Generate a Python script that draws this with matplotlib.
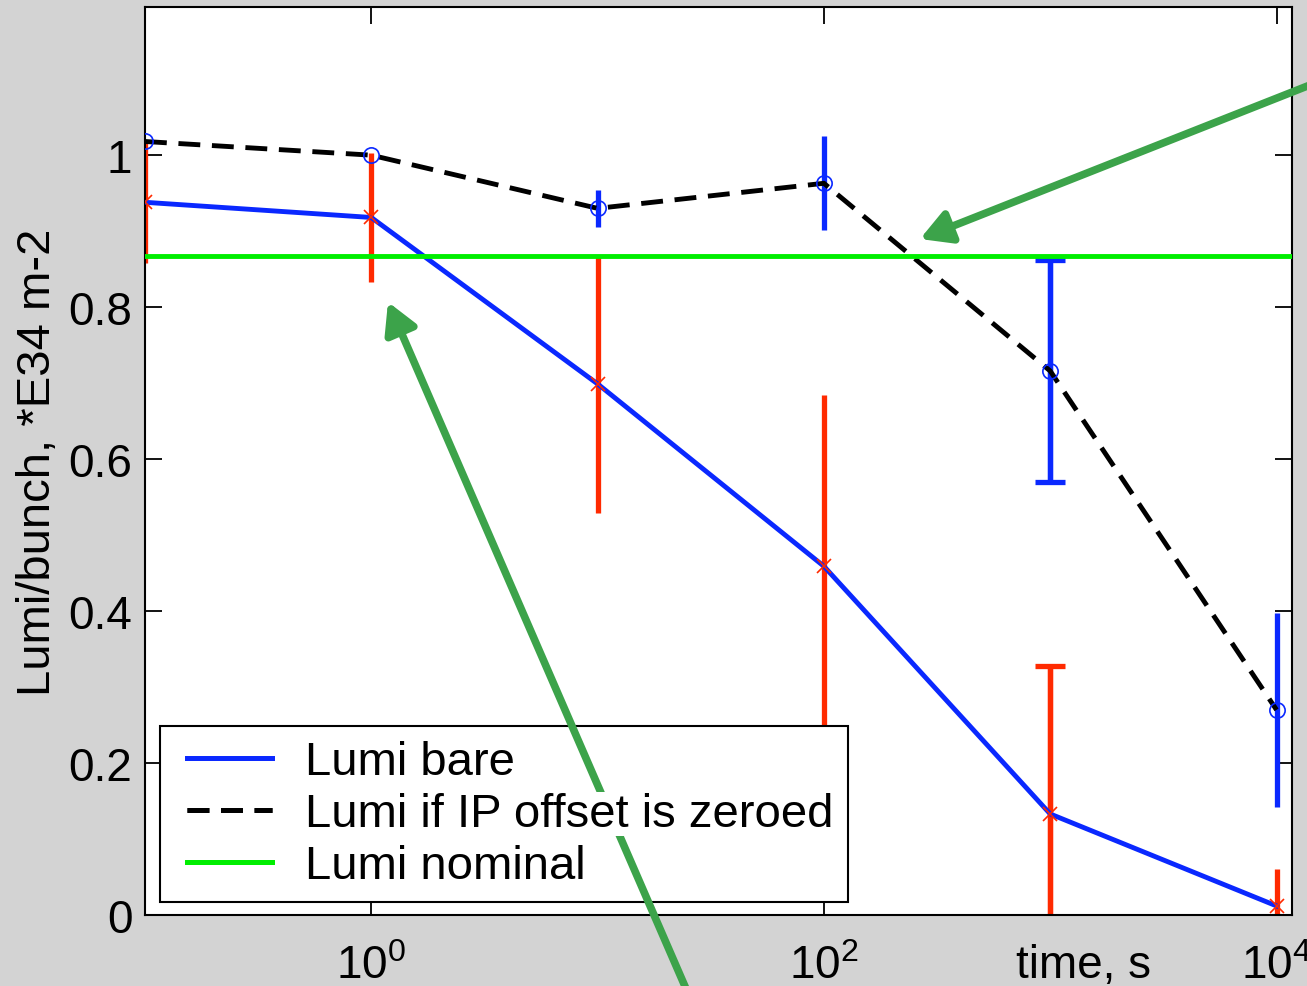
import numpy as np
import matplotlib
matplotlib.use("Agg")
from matplotlib import pyplot as plt
from matplotlib.lines import Line2D
from matplotlib.legend_handler import HandlerLine2D
from matplotlib.patches import FancyArrowPatch
from matplotlib.ticker import FuncFormatter, FixedLocator, NullLocator

plt.rcParams['font.family'] = ['Liberation Sans', 'DejaVu Sans']
plt.rcParams['mathtext.default'] = 'regular'

# data
time_s = [0.1, 1, 10, 100, 1000, 10000]
lumi_bare = [0.938, 0.918, 0.699, 0.459, 0.133, 0.012]
lumi_bare_err = [0.08, 0.085, 0.17, 0.225, 0.195, 0.048]
lumi_zeroed = [1.018, 1.0, 0.930, 0.963, 0.716, 0.270]
lumi_zeroed_err = [0.0, 0.0, 0.024, 0.062, 0.146, 0.128]
lumi_nominal = 0.867
capped = [4]  # only the 1e3 point shows caps

y_ticks = [0, 0.2, 0.4, 0.6, 0.8, 1.0]
x_ticks = [1, 100, 10000]
legend_labels = ["Lumi bare", "Lumi if IP offset is zeroed", "Lumi nominal"]

blue = '#0a28ff'
red = '#ff2a00'
green = '#00ee00'
arrow_green = '#3ca34a'
fs = 33

W, H = 1307, 987
fig = plt.figure(figsize=(W / 100, H / 100), dpi=100, facecolor='#d3d3d3')
ax = fig.add_axes([0.1109, 0.0719, 0.8776, 0.92])
ax.set_facecolor('white')

# error bars
ax.errorbar(time_s, lumi_bare, yerr=lumi_bare_err, fmt='none', ecolor=red,
            elinewidth=3.8, capsize=0, zorder=2)
ax.errorbar(time_s, lumi_zeroed, yerr=lumi_zeroed_err, fmt='none', ecolor=blue,
            elinewidth=3.8, capsize=0, zorder=2)
for i in capped:
    ax.errorbar([time_s[i]], [lumi_bare[i]], yerr=[lumi_bare_err[i]], fmt='none',
                ecolor=red, elinewidth=3.8, capsize=11, capthick=3.8, zorder=2)
    ax.errorbar([time_s[i]], [lumi_zeroed[i]], yerr=[lumi_zeroed_err[i]], fmt='none',
                ecolor=blue, elinewidth=3.8, capsize=11, capthick=3.8, zorder=2)

# lines
ax.plot(time_s, lumi_bare, color=blue, lw=3.5, label=legend_labels[0], zorder=3)
ax.plot(time_s, lumi_zeroed, color='black', lw=3.5, ls=(0, (4.5, 2.4)),
        label=legend_labels[1], zorder=3)
ax.axhline(lumi_nominal, color=green, lw=3.5, label=legend_labels[2], zorder=3)

# markers
ax.plot(time_s, lumi_bare, ls='none', marker='x', ms=10, mew=1.2, color=red, zorder=4)
ax.plot(time_s, lumi_zeroed, ls='none', marker='o', ms=11, mew=1.2,
        mfc='none', mec=blue, zorder=4)

ax.set_xscale('log')
ax.set_xlim(0.1, 1.17e4)
ax.set_ylim(0, 1.195)
ax.xaxis.set_major_locator(FixedLocator(x_ticks))
ax.xaxis.set_minor_locator(NullLocator())
ax.set_yticks(y_ticks)
ax.yaxis.set_major_formatter(FuncFormatter(lambda v, p: "%g" % v))
ax.tick_params(direction='in', length=12, width=1.3, labelsize=fs,
               top=True, right=True)
ax.tick_params(axis='x', pad=21)
ax.tick_params(axis='y', pad=9)
for s in ax.spines.values():
    s.set_linewidth(1.5)

ax.set_ylabel("Lumi/bunch, *E34 m-2", fontsize=34, labelpad=6)
fig.text(1083 / W, 1 - 966 / H, "time, s", fontsize=fs, ha='center', va='center')

leg_kw = dict(loc='lower left', bbox_to_anchor=(0.013, 0.014), bbox_transform=ax.transAxes,
              borderaxespad=0, fontsize=34, fancybox=False, framealpha=1,
              edgecolor='black', handlelength=2.08, handletextpad=0.7,
              labelspacing=0.17, borderpad=0.3,
              handler_map={Line2D: HandlerLine2D(xpad=0.28)})
leg = ax.legend(**leg_kw)
leg.get_frame().set_linewidth(1.5)

# green arrows, placed in figure pixels, drawn over the legend frame
for tail, head in [((1310, 86), (920, 240)), ((687, 992), (388, 303))]:
    p = FancyArrowPatch((tail[0] / W, 1 - tail[1] / H), (head[0] / W, 1 - head[1] / H),
                        transform=fig.transFigure,
                        arrowstyle='-|>,head_length=18,head_width=10',
                        mutation_scale=1, color=arrow_green, lw=5.5,
                        shrinkA=0, shrinkB=0, zorder=6)
    fig.add_artist(p)

# the legend labels sit above the arrow on a white ground
handles, labels = ax.get_legend_handles_labels()
top_leg = fig.legend(handles, labels, frameon=False, **leg_kw)
top_leg.set_zorder(7)
for t in top_leg.get_texts():
    t.set_bbox(dict(facecolor='white', edgecolor='none', pad=0))

fig.savefig('out.png', dpi=100, facecolor=fig.get_facecolor())
